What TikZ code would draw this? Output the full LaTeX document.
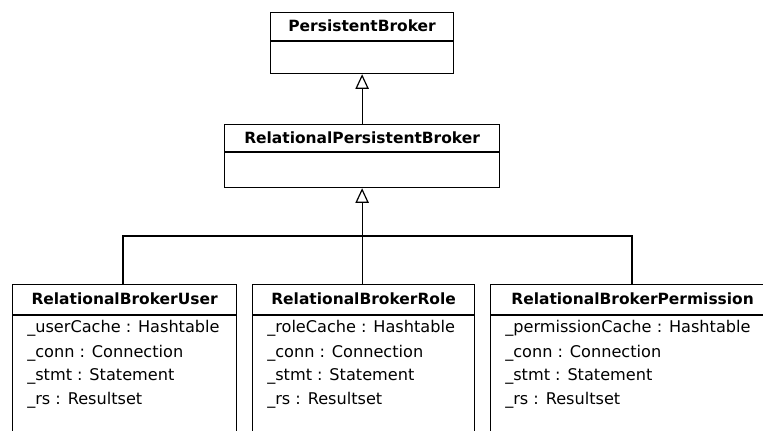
\documentclass[tikz,border=0pt]{standalone}
\usepackage{fontspec}
\setmainfont{DejaVu Sans}
\usetikzlibrary{arrows.meta}
\begin{document}
\begin{tikzpicture}[x=0.75pt,y=-0.75pt,
  box/.style={draw,line width=0.9pt,anchor=north west,inner sep=0pt},
  hdr/.style={font=\fontsize{11.6pt}{14pt}\selectfont\bfseries,inner sep=0pt},
  attr/.style={font=\fontsize{12.1pt}{14pt}\selectfont,anchor=west,inner sep=0pt},
  conn/.style={line width=0.9pt},
  inh/.style={conn,-{Triangle[open,length=11pt,width=10pt,line width=0.9pt]}}]
\useasboundingbox (0,0) rectangle (763,430);
\fill[white] (0,0) rectangle (763,430);
\clip (0,0) rectangle (763,430);

% PersistentBroker
\node[box,minimum width=137.25pt,minimum height=45.75pt] (pb) at (270,12) {};
\draw[conn] (pb.west |- 0,41) -- (pb.east |- 0,41);
\node[hdr] (pbt) at (pb.north |- 0,26) {PersistentBroker};

% RelationalPersistentBroker
\node[box,minimum width=206.25pt,minimum height=47.25pt] (rpb) at (224,124) {};
\draw[conn] (rpb.west |- 0,152) -- (rpb.east |- 0,152);
\node[hdr] (rpbt) at (rpb.north |- 0,138) {RelationalPersistentBroker};

% bottom classes
\node[box,minimum width=168pt,minimum height=124.5pt] (u) at (12,284) {};
\node[box,minimum width=166.5pt,minimum height=124.5pt] (r) at (252,284) {};
\node[box,minimum width=213pt,minimum height=124.5pt] (p) at (490,284) {};
\foreach \b in {u,r,p}{
  \draw[conn] (\b.west |- 0,315) -- (\b.east |- 0,315);
}
\node[hdr] (ut) at (u.north |- 0,299) {RelationalBrokerUser};
\node[hdr] (rt) at (r.north |- 0,299) {RelationalBrokerRole};
\node[hdr] (pt) at (p.north |- 0,299) {RelationalBrokerPermission};

\node[attr] (u1) at (27,328) {\_userCache : Hashtable};
\node[attr] (u2) at (27,353) {\_conn : Connection};
\node[attr] (u3) at (27,376) {\_stmt : Statement};
\node[attr] (u4) at (27,400) {\_rs : Resultset};

\node[attr] (r1) at (267,328) {\_roleCache : Hashtable};
\node[attr] (r2) at (267,353) {\_conn : Connection};
\node[attr] (r3) at (267,376) {\_stmt : Statement};
\node[attr] (r4) at (267,400) {\_rs : Resultset};

\node[attr] (p1) at (505,328) {\_permissionCache : Hashtable};
\node[attr] (p2) at (505,353) {\_conn : Connection};
\node[attr] (p3) at (505,376) {\_stmt : Statement};
\node[attr] (p4) at (505,400) {\_rs : Resultset};

% connectors
\draw[inh] (rpb.north) -- (pb.south);
\coordinate (j) at (rpb.south |- 0,236);
\draw[inh] (j) -- (rpb.south);
\draw[conn] (u.north -| 123,0) |- (j);
\draw[conn] (p.north -| 632,0) |- (j);
\draw[conn] (r.north -| j) -- (j);
\end{tikzpicture}
\end{document}
